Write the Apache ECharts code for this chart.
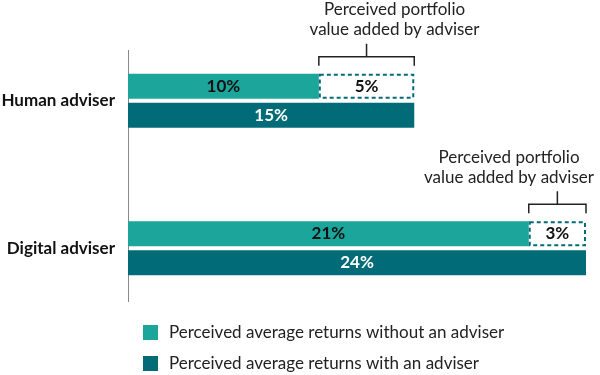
<!DOCTYPE html>
<html>
<head>
<meta charset="utf-8">
<script src="https://cdn.jsdelivr.net/npm/echarts@6/dist/echarts.min.js"></script>
<style>html,body{margin:0;padding:0;background:#fff}#c{width:600px;height:375px}</style>
</head>
<body>
<div id="c"></div>
<script>
const categories = ['Human adviser', 'Digital adviser'];
const withoutAdviser = [10, 21];
const addedByAdviser = [5, 3];
const withAdviser = [15, 24];
const seriesNames = ['Perceived average returns without an adviser', 'Perceived average returns with an adviser'];
const bracketText = 'Perceived portfolio\nvalue added by adviser';

const LIGHT = '#1ba59b';
const DARK = '#016b78';
const FONT = 'Lato';

const bracketData = categories.map((c, i) => [i, withoutAdviser[i], withoutAdviser[i] + addedByAdviser[i]]);

const legendCommon = {
  left: 138, itemWidth: 15, itemHeight: 15, icon: 'rect',
  textStyle: {fontFamily: FONT, fontSize: 17, color: '#222', padding: [0, 0, 0, 6]}
};

const chart = echarts.init(document.getElementById('c'), null, {renderer: 'canvas'});
chart.setOption({
  animation: false,
  textStyle: {fontFamily: FONT},
  grid: {left: 128, right: 14, top: 27, bottom: 53, containLabel: false, outerBoundsMode: 'none'},
  xAxis: {type: 'value', min: 0, max: 24, show: false},
  yAxis: {
    type: 'category', data: categories, inverse: true,
    axisLine: {show: false}, axisTick: {show: false},
    axisLabel: {fontFamily: FONT, fontSize: 17, fontWeight: 'bold', color: '#111', margin: 13}
  },
  legend: [
    Object.assign({}, legendCommon, {top: 319, data: [seriesNames[0]]}),
    Object.assign({}, legendCommon, {top: 350, data: [seriesNames[1]]})
  ],
  graphic: [{type: 'line', shape: {x1: 128.5, y1: 50, x2: 128.5, y2: 302}, style: {stroke: '#8a8a8a', lineWidth: 1}, silent: true}],
  series: [
    {
      name: seriesNames[0], type: 'bar', stack: 'a', data: withoutAdviser,
      barWidth: 25, barGap: '16%',
      itemStyle: {color: LIGHT},
      label: {show: true, position: 'inside', formatter: '{c}%', color: '#111', fontFamily: FONT, fontSize: 17, fontWeight: 'bold'}
    },
    {
      name: 'added', type: 'bar', stack: 'a', data: addedByAdviser,
      barWidth: 25,
      itemStyle: {color: '#fff', borderColor: DARK, borderWidth: 2, borderType: [4, 3]},
      label: {show: true, position: 'inside', formatter: '{c}%', color: '#111', fontFamily: FONT, fontSize: 17, fontWeight: 'bold'}
    },
    {
      name: seriesNames[1], type: 'bar', data: withAdviser,
      barWidth: 25,
      itemStyle: {color: DARK},
      label: {show: true, position: 'inside', formatter: '{c}%', color: '#fff', fontFamily: FONT, fontSize: 17, fontWeight: 'bold'}
    },
    {
      name: 'bracket', type: 'custom', data: bracketData,
      encode: {x: [1, 2], y: 0},
      silent: true,
      renderItem: function (params, api) {
        const p1 = api.coord([api.value(1), api.value(0)]);
        const p2 = api.coord([api.value(2), api.value(0)]);
        const cy = p1[1];
        const x1 = p1[0], x2 = p2[0];
        const mid = (x1 + x2) / 2;
        const yb = cy - 44, ye = cy - 35, ys = cy - 57;
        let tx = mid + 28;
        const half = 85;
        const maxRight = params.coordSys.x + params.coordSys.width + 8;
        if (tx + half > maxRight) tx = maxRight - half;
        return {
          type: 'group',
          children: [
            {type: 'polyline', shape: {points: [[x1, ye], [x1, yb], [x2, yb], [x2, ye]]}, style: {stroke: '#222', lineWidth: 1.5, fill: null}},
            {type: 'line', shape: {x1: mid, y1: yb, x2: mid, y2: ys}, style: {stroke: '#222', lineWidth: 1.5}},
            {type: 'text', style: {text: bracketText, x: tx, y: cy - 81, align: 'center', verticalAlign: 'middle', textAlign: 'center', textVerticalAlign: 'middle', fontFamily: FONT, fontSize: 17, lineHeight: 20, fill: '#222'}}
          ]
        };
      }
    }
  ]
});
</script>
</body>
</html>
